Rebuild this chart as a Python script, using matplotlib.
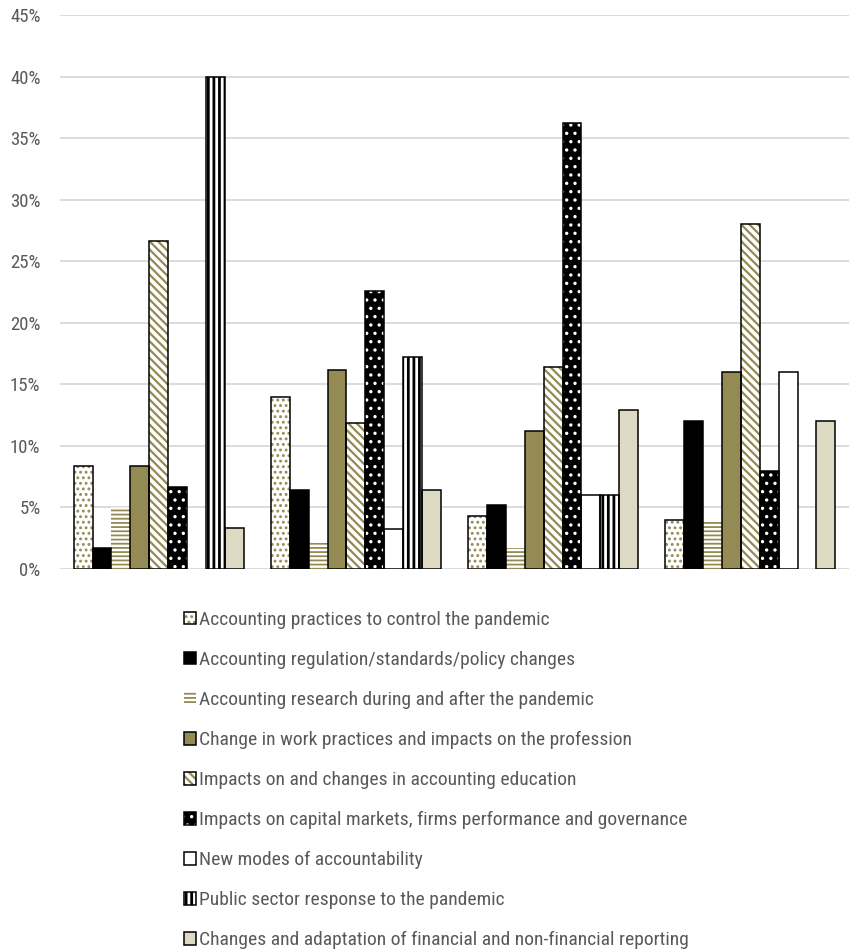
import numpy as np
import matplotlib
matplotlib.use("Agg")
import matplotlib.pyplot as plt
from matplotlib.patches import Patch, Rectangle
from matplotlib.legend_handler import HandlerTuple

plt.rcParams['font.family'] = ['Liberation Sans Narrow', 'Arial Narrow', 'Roboto Condensed',
                               'PT Sans Narrow', 'Archivo Narrow', 'DejaVu Sans']

# Share of papers per theme (%) in each of the four groups
groups = ["Group 1", "Group 2", "Group 3", "Group 4"]
practices = [8.33, 13.98, 4.31, 4.00]
regulation = [1.67, 6.45, 5.17, 12.00]
research = [5.00, 2.15, 1.72, 4.00]
work = [8.33, 16.13, 11.21, 16.00]
education = [26.67, 11.83, 16.38, 28.00]
capital = [6.67, 22.58, 36.21, 8.00]
new_modes = [0.00, 3.23, 6.03, 16.00]
public = [40.00, 17.20, 6.03, 0.00]
reporting = [3.33, 6.45, 12.93, 12.00]

labels = [
    "Accounting practices to control the pandemic",
    "Accounting regulation/standards/policy changes",
    "Accounting research during and after the pandemic",
    "Change in work practices and impacts on the profession",
    "Impacts on and changes in accounting education",
    "Impacts on capital markets, firms performance and governance",
    "New modes of accountability",
    "Public sector response to the pandemic",
    "Changes and adaptation of financial and non-financial reporting",
]
series = [practices, regulation, research, work, education, capital,
          new_modes, public, reporting]

OLIVE = "#948A54"
BEIGE = "#DDD9C3"
TEXT = "#595959"
GRID = "#D9D9D9"

# fill style per series: (face, hatch, hatch colour, hatch lw, outline?)
styles = [
    ("white", "...", OLIVE, 1.3, True),
    ("black", None, None, 1.0, True),
    ("white", "----", OLIVE, 1.3, False),
    (OLIVE, None, None, 1.0, True),
    ("white", "\\\\\\\\", OLIVE, 1.6, True),
    ("black", "..", "white", 1.2, True),
    ("white", None, None, 1.0, True),
    ("white", "|||", "black", 2.0, True),
    (BEIGE, None, None, 1.0, True),
]
HATCH_LW = {st[1]: st[3] for st in styles if st[1]}


def apply_hatch_lw(artist, lw):
    """Give an artist its own hatch line width."""
    if hasattr(artist, "set_hatch_linewidth"):
        artist.set_hatch_linewidth(lw)
    if hasattr(artist, "_hatch_linewidth"):
        artist._hatch_linewidth = lw
    orig = artist.draw

    def draw(renderer, *a, **k):
        with plt.rc_context({"hatch.linewidth": lw}):
            return orig(renderer, *a, **k)
    artist.draw = draw


W, H = 849, 949
fig = plt.figure(figsize=(W / 100, H / 100), dpi=100)
ax = fig.add_axes([60 / W, (H - 569) / H, (W - 60) / W, (569 - 15) / H])

x = np.arange(len(groups))
n = len(series)
width = 0.0957
EDGE_LW = 1.1


def styled(face, hatch, hcol):
    kw = dict(facecolor=face, linewidth=0)
    if hatch:
        kw.update(hatch=hatch, edgecolor=hcol)
    return kw


handles = []
for j, (vals, st) in enumerate(zip(series, styles)):
    face, hatch, hcol, hlw, outline = st
    vals = np.asarray(vals, dtype=float)
    h = np.where(vals > 0, vals, np.nan)
    pos = x + (j - (n - 1) / 2) * width
    with plt.rc_context({"hatch.linewidth": hlw}):
        bars = ax.bar(pos, h, width, zorder=3, **styled(face, hatch, hcol))
        fill_h = Patch(**styled(face, hatch, hcol))
    for b in bars:
        apply_hatch_lw(b, hlw)
    apply_hatch_lw(fill_h, hlw)
    if outline:
        ax.bar(pos, h, width, facecolor="none", edgecolor="black",
               linewidth=EDGE_LW, zorder=4)
        edge_h = Patch(facecolor="none", edgecolor="black", linewidth=EDGE_LW)
        handles.append((fill_h, edge_h))
    else:
        handles.append(fill_h)

ax.set_xlim(-0.5, 3.5)
ax.set_ylim(0, 45)
ax.set_yticks(np.arange(0, 46, 5))
ax.set_yticklabels([f"{v}%" for v in range(0, 46, 5)])
ax.set_xticks([])
ax.tick_params(axis="y", length=0, pad=14, labelsize=13.5, labelcolor=TEXT)
ax.yaxis.grid(True, color=GRID, linewidth=1.3, zorder=0)
ax.set_axisbelow(True)
for s in ax.spines.values():
    s.set_visible(False)

leg = fig.legend(handles, labels, loc="upper left",
                 bbox_to_anchor=(184 / W, 1 - 611 / H),
                 handler_map={tuple: HandlerTuple(ndivide=1, pad=0)},
                 frameon=False, fontsize=14, labelcolor=TEXT,
                 handlelength=0.62, handleheight=0.62, handletextpad=0.16,
                 labelspacing=1.13, borderpad=0, borderaxespad=0)
for r in leg.findobj(Rectangle):
    hp = r.get_hatch()
    if hp in HATCH_LW:
        apply_hatch_lw(r, HATCH_LW[hp])

fig.savefig("out.png", dpi=100)
